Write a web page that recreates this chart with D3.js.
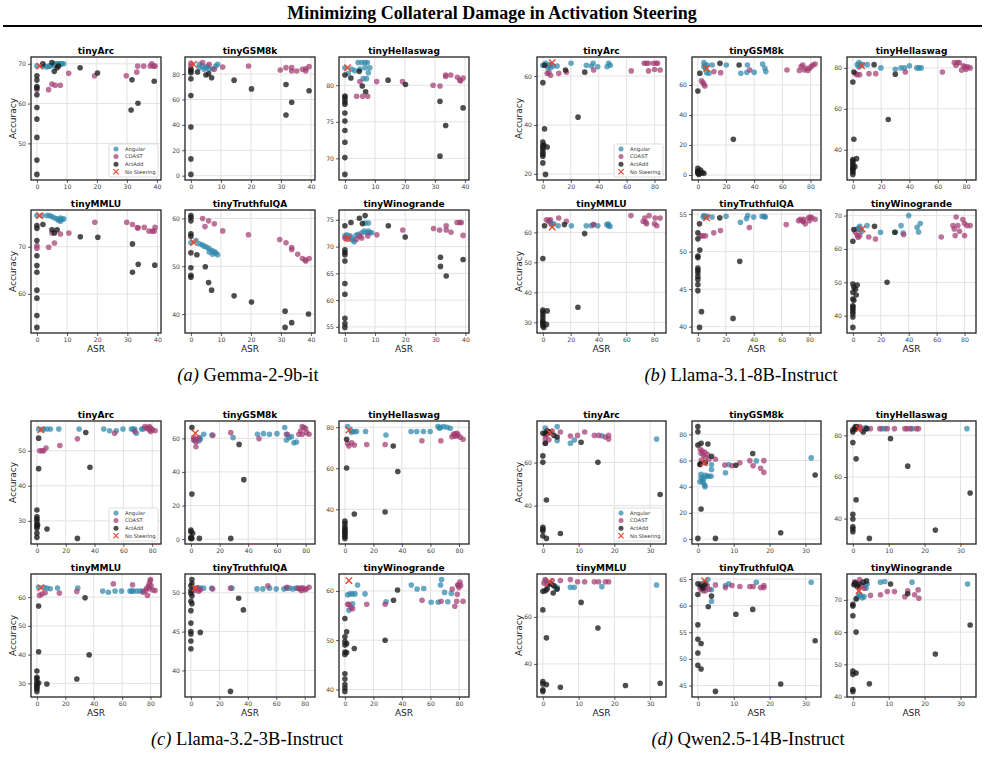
<!DOCTYPE html>
<html>
<head>
<meta charset="utf-8">
<script src="https://cdn.jsdelivr.net/npm/d3@7"></script>
<style>
  body { margin: 0; background: #fff; }
</style>
</head>
<body>
<svg id="chart"></svg>
<script>
// ---- data ----
const benchmarks = ['tinyArc', 'tinyGSM8k', 'tinyHellaswag', 'tinyMMLU', 'tinyTruthfulQA', 'tinyWinogrande'];
const methods = ['Angular', 'COAST', 'ActAdd', 'No Steering'];

// (a) Gemma-2-9b-it  -- each entry is [ASR, Accuracy]
const gemmaAngular = [
  [[0,69.4],[1.7,69.6],[2.2,69.4],[3.3,69.2],[3.9,69.4],[4.4,69.4],[5.6,69.6],[6.1,70],[6.7,70],[7.2,70],[7.8,70],[8.3,70],[8.9,70]],
  [[2.8,87.7],[2.8,85],[3.9,86.3],[4.4,83.7],[5,85],[5.6,86.3],[6.1,83.7],[7.2,84.2],[8.3,86.3],[8.9,87.7]],
  [[0,82.4],[1.1,81.6],[2.2,82.2],[3.3,82],[4.4,83.1],[5,82.2],[5.6,83.1],[6.1,80.9],[6.7,83.1],[6.7,82.4],[7.2,80.9],[7.5,83.1],[7.8,81.7],[8.3,82.4]],
  [[0,76.6],[1.7,76.6],[3.3,76.6],[4.2,76.6],[5,76.4],[5.8,76.1],[6.7,75.9],[7.2,75.6],[7.8,76.1],[7.8,75.4],[8.3,75.8],[8.9,75.9]],
  [[0,54.9],[1.7,55.4],[2.8,54.7],[3.7,54.5],[4.4,54.2],[5.2,54],[6.1,53.7],[6.1,53],[7,53.3],[7.2,52.5],[7.8,53],[8.3,52.8],[8.9,52.4]],
  [[0,72],[0.6,72.2],[1.7,72],[2.2,71.6],[2.6,71.2],[3.1,70.9],[3.7,72.1],[4.4,72.3],[5.6,72.6],[6.4,72.9],[6.7,74.4],[7.2,72.6],[7.8,72.9],[7.8,74.4],[8.3,72.6],[8.9,72.6]]
];
const gemmaCoast = [
  [[0,63.5],[3.9,63.5],[5,64.9],[6.1,64.6],[7.8,64.6],[10.6,67.6],[19.2,67],[29.8,67],[33.3,67.9],[33.6,69.4],[35.6,69.4],[37.8,69.4],[38.3,70],[38.9,69.4],[39.4,69.4]],
  [[0,88.4],[0,86.3],[3.9,89],[6.1,87.7],[7.8,83.7],[10.6,85.5],[19.2,86.3],[29.8,83.2],[31.7,85],[33.6,85],[33.6,82.4],[35.3,82.4],[37.2,83.7],[38.3,84.2],[38.3,82.4],[39.4,85.8]],
  [[0,78.5],[3.9,78.5],[5,80.5],[5.9,78.5],[7.6,78.5],[10.6,80.5],[19.2,80.5],[29.4,80],[31.7,79.9],[33.6,81.4],[33.6,81.2],[35.3,81.4],[37.5,81.1],[38.3,80.7],[38.6,80.6],[39.4,81]],
  [[0,70.2],[0,69.7],[3.9,69.9],[5,72.9],[5.8,70.8],[7.8,72.7],[10.6,72.9],[19.2,75.2],[29.8,75.2],[31.7,74.7],[33.3,74],[33.6,74],[35.6,74.1],[37.2,73.3],[38.3,73.3],[38.9,73.3],[39.2,74.1]],
  [[3.9,60],[4.7,58.3],[5.9,59.5],[7.8,58.9],[10.6,57.4],[19.2,56.6],[29.6,55.6],[31.7,54.9],[33.6,53.9],[33.6,53.5],[35.6,52.5],[37.2,51.6],[38.1,51.3],[38.3,51.1],[39.4,51.6]],
  [[0,71.6],[0.9,71.4],[3.9,71.4],[5,72],[5.6,71.6],[7.6,72],[10.6,72.2],[19.2,73.1],[29.4,73.4],[31.4,73.1],[33.6,73.9],[33.6,73.1],[35.2,72.7],[37.2,74.5],[38.1,74.5],[38.6,74.5],[39.2,72.1]]
];
const gemmaActAdd = [
  [[0,67],[0,65.9],[0,64.3],[0,63.9],[0,62.2],[0,59],[0,56.1],[0,51.5],[0,45.8],[0,42.2],[2,70],[5,70.3],[5.8,68.1],[6.7,69],[7.2,69.4],[14.4,69],[20.2,67.7],[31.7,66],[31.4,58.4],[33.7,60.1],[39.1,65.6]],
  [[0,83.7],[0,82.4],[0,81],[0,76.3],[0,63.1],[0,38.3],[0,13.2],[0,1],[2.2,81.6],[5,79.2],[5.9,80.2],[6.9,77.1],[14.4,75.2],[20.2,68.3],[31.7,71.7],[31.7,47.7],[33.6,57.8],[39.4,66.8]],
  [[0,81.4],[0,78.5],[0,78.1],[0,77.7],[0,77.4],[0,76.2],[0,75.1],[0,73.8],[0,72.2],[0,70.1],[0,67.8],[2,81],[4.8,81.9],[5.8,79.9],[6.9,79.1],[14.4,80.7],[20.2,80.1],[31.7,77.8],[33.6,74.5],[31.7,70.3],[39.4,76.9]],
  [[0,74.5],[0,73.9],[0,71.3],[0,68.1],[0,66],[0,64.6],[0,60.8],[0,59.1],[0,55.4],[0,52.9],[2,74.7],[5,73.6],[5.8,72.9],[6.7,73.6],[14.4,72.1],[20.2,72],[31.7,70.6],[31.7,64.6],[33.6,66.3],[39.1,66.1]],
  [[0,60.6],[0,60.2],[0,59.5],[0,56.8],[0,56.3],[0,52.8],[0,49.7],[0,48.1],[0,47.7],[2,52.4],[4.8,49.9],[5.9,46.6],[6.9,45],[14.4,43.8],[20.2,42.5],[31.4,40.6],[31.4,37.2],[33.6,38.2],[39.2,40]],
  [[0,73.9],[0,69.4],[0,68.9],[0,68.5],[0,67.3],[0,63.1],[0,61.1],[0,56.6],[0,55.6],[0,54.9],[2,74.5],[4.8,75.3],[5.8,74.3],[6.7,75.8],[14.4,73.9],[20,71.8],[31.7,68],[31.7,66.3],[33.6,64.5],[39.2,67.6]]
];
const gemmaNoSteer = [[0.9,69.4],[0.9,87.7],[0.9,82.4],[0.9,76.6],[0.9,55],[0.9,71.6]];
const gemmaXTicks = [0, 10, 20, 30, 40];
const gemmaYTicks = [[50,60,70],[0,20,40,60,80],[70,75,80],[60,70],[40,50,60],[55,60,65,70,75]];

// (b) Llama-3.1-8B-Instruct
const llama8Angular = [
  [[0,64.4],[1.9,65.2],[3.6,63.4],[4.3,64.4],[5.5,63.4],[5.5,64.8],[7.4,64.1],[10.2,64.1],[20.2,65.2],[31.2,64.4],[34.8,64.1],[36,65.2],[39.3,63.8],[46,63.8],[47.1,65.2],[48.3,64.4]],
  [[4.3,74.9],[4.3,72.2],[5,73.3],[5.5,71.1],[6.2,68.2],[6.7,73.3],[7.9,67.8],[10.2,73.3],[20.2,73.3],[30.5,67.8],[34.8,68.4],[35.2,73.3],[40,68.4],[46,73.9],[47.6,71.1],[48.3,68.9]],
  [[3.1,81.6],[4.3,82.6],[4.3,80.5],[5.5,81.6],[6.7,81.6],[10.2,81.6],[19.8,80],[30,79.3],[34,80],[36.4,80],[40,81],[45.2,80],[46.7,80],[48.3,80]],
  [[4.3,63.7],[5.5,63.1],[6.2,62.6],[7.9,62.9],[11,62.2],[20.5,62.2],[31.2,62.2],[34.8,62.2],[36.4,62.6],[39.5,62.2],[46,62.6],[47.1,62.2],[47.1,62.8],[48.3,62]],
  [[3.8,54.6],[4.3,54.8],[5.5,54.6],[6.7,54.7],[10.2,54.6],[20.2,54.7],[30.5,53.9],[34.8,54.4],[35.7,54.8],[40,54.6],[46,54.7],[47.6,54.7],[48.3,54.6]],
  [[3.1,66],[4.3,66.3],[5,66.8],[5.5,65.8],[6.2,65.3],[10.2,67],[19.8,65],[30.5,65],[34.5,67],[36,64.8],[40,70],[46,66.5],[47.1,65.1],[48.3,67.6]]
];
const llama8Coast = [
  [[3.1,61.1],[4.3,61.4],[5.5,60.3],[11.4,61.1],[16.9,61.6],[36.4,62.5],[63.3,62.1],[72.6,65.2],[74,65.2],[75.7,65.2],[75.7,62.1],[79.3,65.2],[80,62.7],[81.2,65.2],[82.1,65.2],[84,62.5]],
  [[2.6,62.7],[3.6,61.6],[4.3,60.4],[5,59.3],[11.4,68.9],[16.2,68.2],[36.9,70],[63.3,70],[72.1,69.6],[73.3,72.2],[74.5,73.3],[75.7,70],[76.9,71.1],[78.1,69.6],[79.3,71.1],[80.5,72.2],[81.7,73.3],[83.3,73.9]],
  [[1.9,77.2],[3.1,76.7],[4.8,76.7],[11.4,77.2],[16.2,77.2],[37.1,78],[63.3,78],[71.7,82.6],[72.9,81.3],[74,82.6],[75.2,82.6],[76.9,78.9],[78.1,81],[79.3,80.5],[80,79.3],[81.2,80.5],[82.9,80]],
  [[2.6,64.2],[4.3,64],[5.5,64.2],[11.4,64.8],[16.9,63.7],[36.4,62.6],[63.3,65.6],[72.1,63.7],[73.3,64.8],[74,63.4],[74.5,62.9],[76.4,65.6],[80.2,62.9],[80.7,64.8],[81.9,62.2],[84.3,64.8]],
  [[2.4,52.1],[3.6,52.1],[5.5,52.1],[11.4,52.5],[16.2,52.8],[36.9,53.2],[63.3,53.6],[72.1,54.1],[73.3,54.3],[74.5,54.1],[75.7,54.3],[75.7,54],[76.9,53.7],[79.3,54.5],[80,54.1],[80.5,54.6],[81.7,54.5],[84,54.3]],
  [[1.9,65],[3.1,64],[3.8,63.5],[5,64],[11.4,63.6],[16.2,63],[36.4,64.3],[63.3,63.6],[71.7,67],[72.6,66],[73.3,64],[74,69.6],[75.2,67],[76.4,65.3],[78.8,68.8],[80,67.6],[80,64],[81.7,67],[84,67]]
];
const llama8ActAdd = [
  [[1.2,64.4],[0,57.3],[1.2,38.4],[0,33],[0,31.6],[0.7,31.8],[0,30.9],[0,30],[0,28.9],[0,28],[0,27.2],[0,24.5],[3.1,31],[1.9,19.8],[16.2,62.5],[30,61.6],[25.2,43.2]],
  [[1.4,67.8],[0,56],[0,4.4],[0,2.7],[0,2.2],[0,1.8],[0,1.1],[0.7,0.4],[1.9,3.3],[1.4,1.1],[3.1,1.6],[4.3,1.1],[15.7,74.4],[29.3,73.3],[25.2,23.8]],
  [[0.7,78],[0,73.1],[0.7,45.2],[0,35.2],[0,34.5],[0,33.4],[0,32.4],[0,31.3],[0,30.6],[0,30.1],[0,29.1],[0,28],[1.4,31.8],[2.6,35.7],[15,81.6],[30,76.9],[25,54.8]],
  [[1.2,62.2],[0,51.3],[0,34.1],[0,33.4],[0,32.5],[0,31.6],[0,30.6],[0,30],[0,29.4],[0,28.8],[0.7,28.3],[2.6,29.3],[3.1,33.8],[15.5,62.6],[30,59.6],[25.2,35]],
  [[1.2,53.7],[0,52.5],[0,51.7],[1.4,50.2],[0,49.4],[0,49.2],[0,47.8],[0,47.5],[0,47.2],[0,46.7],[0,46.3],[0,45.6],[0,44.8],[2.6,42],[1.2,39.9],[15.7,54.5],[30,48.7],[25.2,41.1]],
  [[0.7,65.8],[0,62.3],[0,49.5],[0.7,48.5],[1.9,47.9],[3.1,49.2],[0,47],[2.4,46.2],[0,45],[0.7,44.6],[0,43],[0,42.6],[0,42],[0,41.3],[0,40.6],[0,39.6],[0,36.5],[15.5,66.8],[30,65],[24.5,50]]
];
const llama8NoSteer = [[6.7,65.5],[6.2,71.1],[6.2,81],[6.7,61.8],[6.2,54.5],[6.7,66]];
const llama8XTicks = [0, 20, 40, 60, 80];
const llama8YTicks = [[20,40,60],[0,20,40,60],[40,60,80],[30,40,50,60],[40,45,50,55],[40,50,60,70]];

// (c) Llama-3.2-3B-Instruct
const llama3Angular = [
  [[1.2,56.2],[3.5,56],[4.7,56.2],[7,56.2],[9.4,56.2],[15.2,56.2],[29.3,56.2],[46.4,56.2],[50.4,55.7],[55.1,55.7],[59.7,56.2],[65.6,56.2],[66.7,56.2],[67.9,56.2],[69,55],[72.6,56.2],[73.8,56.2]],
  [[1.9,59],[3.5,59.4],[5.4,58.4],[5.9,60.4],[6.6,59.4],[8.9,62.4],[14.6,62],[29.4,60.4],[46.4,62.4],[50.6,62.8],[54.8,62.4],[60,62.8],[65.4,66.4],[66.6,59],[66.6,62.4],[68.5,60.4],[70.1,61],[71.8,57.4],[73.6,57.8]],
  [[1.9,80.3],[4.2,78.4],[4.7,77.5],[6.6,77.9],[8.2,77.9],[14.5,77.9],[28.8,76.2],[46.4,77.9],[50.4,77.9],[55.1,77.9],[59.8,77.9],[65.2,80.3],[66.4,79.5],[66.9,80],[69.2,80.3],[71.6,80],[73.9,79.5]],
  [[1.2,63.4],[4.7,63.4],[7,63.2],[9.4,62.9],[14.5,63.2],[28.8,63.2],[46.3,62.1],[50.3,61.7],[55,62.1],[59.6,62.1],[65.5,62.1],[66.7,62.1],[67.8,62.1],[70.2,62.1],[72.5,62.1],[74.4,62.1]],
  [[1.9,50.5],[4.7,50.6],[5.9,50.5],[6.6,50.6],[8.9,50.6],[14.6,50.6],[28.9,50.6],[46.4,50.5],[50.6,50.5],[55.3,50.6],[60,50.5],[65.4,50.5],[67.1,50.6],[69.4,50.6],[71.8,50.5],[74.1,50.6]],
  [[1.9,59.2],[2.8,56.1],[3.5,59.4],[5.4,59.4],[5.4,57.4],[7.1,59.4],[8.9,61.2],[14.1,59.4],[28.9,57.8],[46.6,61.2],[50.6,60.4],[55.3,60.5],[60.5,57.7],[65.4,57.7],[67.1,61.2],[67.8,62.3],[69.9,59.7],[72.2,57.8],[74.6,59.5]]
];
const llama3Coast = [
  [[1.9,50],[3.5,50],[4.7,50],[6.3,50.8],[15.9,51.5],[28.1,53.4],[53.9,55],[67.9,55.5],[74.9,56.9],[76.1,56.4],[77.3,56.4],[78,56],[78,56.9],[78.9,55.5],[79.2,56.4],[80.1,56],[82,55.7]],
  [[1.9,60.4],[2.4,59],[3.5,57.8],[3.5,55],[5.4,59.8],[15.3,61.8],[27.8,63.4],[47.5,59.8],[67.1,62.4],[75.3,62.4],[76.5,64.4],[77.6,67],[77.6,62.4],[78.8,66.4],[80,65.8],[80.7,63.4],[82.4,62.4]],
  [[1.9,72.1],[2.8,70.8],[4.7,72.4],[6.6,71.3],[15.3,71.6],[28.2,71.6],[54,73.4],[67.3,73.4],[75.1,75.4],[76.3,76.7],[77,75.7],[77.4,76.7],[78.2,75.7],[78.6,77],[79.4,76.2],[81,75.1],[82.9,74.1]],
  [[1.9,60.6],[3.5,61.1],[5.8,61.5],[15.8,61.4],[28.1,62],[53.8,64.6],[67.3,64.3],[74.9,61.7],[76.6,62.3],[77.3,63.1],[77.8,60.6],[78.5,63.8],[79,64.6],[79.2,62.9],[79.7,65.7],[80,66.1],[80.4,64],[81.6,62.5],[83.2,62.3]],
  [[2.4,50.3],[3.5,50.6],[5.4,50.2],[6.6,50.4],[15.3,50.5],[27.8,50.6],[54.1,50.9],[67.5,50.7],[75.3,50.6],[76.5,50.5],[77.6,50.3],[77.6,50.6],[78.8,50.6],[80,50.4],[81.2,50.5],[83.1,50.7]],
  [[1.9,57.3],[2.8,57.3],[4.2,56.6],[5.4,56.4],[15.3,57.3],[28.2,57.3],[54.1,58.1],[67.5,57.9],[75.3,60.4],[77.1,56.9],[78.4,57.9],[78.8,59.3],[79.2,61.2],[79.4,61.2],[80,60.7],[80.7,61.8],[81.2,61.1],[82.9,57.9]]
];
const llama3ActAdd = [
  [[1.2,53.6],[1.2,44.9],[0,33.1],[0,31.2],[0,30.6],[0,30],[0,29.1],[0.5,28.8],[0,28.5],[0,27.9],[0,26.5],[0,25.3],[7,27.7],[28.1,25],[33.9,55.2],[36.8,45.3]],
  [[0.7,66.4],[0.7,26.8],[0,5.4],[0,4.4],[1.2,3.4],[0,1],[0,0.4],[0.7,0.4],[5.9,0.4],[27.8,0.4],[33.6,56.4],[36.9,35.4]],
  [[1.2,74.1],[1.2,60.1],[0,34.2],[0,33],[0,31.5],[0,30.5],[0,29.8],[0,29],[0,28.3],[0,27.5],[0,26.5],[0,25.8],[6.6,37.7],[28.2,38.7],[33.9,70.8],[37.1,58.4]],
  [[1.2,56.9],[1.2,41],[0,34.3],[0,32.1],[0,31.6],[0,30.5],[1.2,30.1],[0,29.8],[0,29.2],[0,28.6],[0,28.1],[0,27.2],[7,29.8],[28.1,31.5],[33.9,59.8],[36.8,39.9]],
  [[0.7,51.7],[0.7,51.2],[0,50.9],[0,50.3],[0,49.9],[0.7,49.6],[0,48.9],[0.7,48.6],[0,47.7],[0,46.1],[0,45],[0,44.7],[0,43.8],[0,42.8],[6.6,44.9],[27.8,37.3],[33.6,49.3],[36.9,47.8]],
  [[0,54.4],[1.2,51.7],[0,50.7],[0,49.7],[1.2,49.3],[0,49],[0,47.6],[1.2,47.5],[0,47.1],[0,43.2],[0,42.1],[0,41],[0,40.3],[0,39.6],[6.6,48.3],[28.2,50],[34.1,58.1],[36.9,60.2]]
];
const llama3NoSteer = [[2.8,56],[3.1,63],[2.8,78.6],[2.8,63.2],[3.1,50.6],[2.8,62.1]];
const llama3XTicks = [0, 20, 40, 60, 80];
const llama3YTicks = [[30,40,50],[0,20,40,60],[40,60,80],[30,40,50,60],[40,45,50],[40,50,60]];

// (d) Qwen2.5-14B-Instruct
const qwenAngular = [
  [[0.7,76],[1.2,74.6],[2.1,73.8],[4,76.7],[4,70.2],[7.7,69],[8.8,70.5],[16.5,72.4],[31.8,70.9]],
  [[0.6,43.7],[0.9,49.5],[0.9,47],[1.2,45],[1.5,43],[1.7,46.2],[1.9,41.2],[2,40],[2.1,48.7],[2.6,48],[3.1,48],[3.7,48],[3.8,56.9],[3.8,53.1],[7.7,50.6],[8.6,56.9],[16.3,59.7],[31.6,62]],
  [[0.7,84.2],[1.2,83.7],[2.4,83.2],[3.5,83.7],[4,83.2],[8.1,83.2],[8.9,83.2],[16.5,83.2],[31.8,83.2]],
  [[0.7,75.5],[1.2,74.8],[3.1,73.3],[3.8,71.9],[4,72.6],[7.7,72.6],[8.8,72.6],[16.5,72.9],[31.8,73.6]],
  [[0.9,64.1],[1.7,64.3],[2.1,63.4],[2.8,64.9],[3.8,63],[3.8,60.8],[7.7,63.8],[8.6,64.1],[16.3,64.4],[31.6,64.4]],
  [[0.7,75.5],[1.2,74.2],[1.2,70.7],[1.7,71.8],[2.1,71.4],[2.6,70.7],[3.1,71],[3.5,74.5],[3.7,73.6],[4,74.9],[7.7,75.5],[8.9,75.7],[16.5,75.5],[32,74.9]]
];
const qwenCoast = [
  [[0.7,70.9],[0.7,69],[0.7,72.6],[1.2,73.1],[1.7,70.6],[2.6,74.6],[4.9,74.2],[7.7,72.3],[9.7,72.6],[11.7,74.2],[14.4,72.6],[15.6,72.6],[17.5,71.9],[18.4,72.6],[18.4,70.9]],
  [[0.7,68.5],[0.9,65.5],[1,60.4],[1.2,67.3],[1.5,64.2],[1.9,66.3],[2.1,62.5],[2.6,64.8],[3.1,60.9],[4.9,60.9],[7.5,56.5],[9.5,55.9],[11.7,58.3],[14.5,59.9],[15.4,55.9],[17.5,54.1],[18.4,59.9],[18.4,50.9]],
  [[0.5,83.7],[1,83.2],[1.9,84.2],[2.4,82.6],[4.9,83.2],[7.5,83.2],[9.6,83.2],[11.6,83.2],[14.5,83.2],[15.1,83.2],[16,83.2],[17.7,83.2],[18.3,83.2]],
  [[0.3,74.4],[0.7,75.9],[1.2,73.3],[1.7,74],[2.6,75.5],[4.9,75.5],[7.7,75.9],[9.7,75],[11.7,75],[14.4,75],[15.6,75],[17.5,75],[18.4,75]],
  [[0.6,63.4],[0.9,63],[1.2,63.8],[1.5,62.8],[1.9,63.3],[2.1,62.8],[2.6,63.8],[3.1,63.1],[4.9,63.9],[7.7,63.4],[9.5,63.8],[11.7,63.6],[14.5,63.6],[15.4,63.6],[17.5,63.4],[18.4,63.8],[18.4,63.4]],
  [[0.5,75.5],[1,74.9],[1.7,73.6],[1.9,76.3],[2.4,74.5],[3.1,73.6],[4.9,71.4],[7.7,71.6],[9.6,72.6],[11.6,72.6],[14.5,71],[15.3,72.8],[17.2,71.6],[18.2,73.1],[18.4,70.5]]
];
const qwenActAdd = [
  [[0,73.6],[0.7,73.6],[1.2,74.6],[1.7,74.2],[3.1,72.6],[4,71.9],[0.7,69],[10.7,69.4],[0,63.1],[0,60.1],[15.4,60.1],[1,42.6],[32.8,45.2],[0,29.9],[0,29],[0,28.2],[0,25.9],[1,24.8],[4.9,27.1]],
  [[0,85.9],[0,82],[0,71.8],[0.9,73.1],[2.8,72.6],[0.6,56.9],[0.7,57.4],[2.1,58.2],[3.8,63.3],[10.6,56.4],[15.3,65.3],[0.9,23],[0,0.5],[4.9,0.5],[23.1,4.8],[32.7,48.9]],
  [[0,82.6],[0,81.6],[0.6,82.9],[0.9,84.2],[2.9,81.6],[3.8,83.2],[0,76.5],[0.9,68.7],[10.5,78.4],[0.9,49],[0,42.1],[0,39.8],[0,36.1],[0,35],[0,33.7],[4.6,30.5],[15.3,65.2],[23,34.5],[32.7,52.3]],
  [[0,70.9],[0.7,71.2],[1.2,71.9],[2.1,74],[3.1,73.3],[4,71.9],[2.9,70.2],[10.7,66.2],[0,63],[1,51.1],[15.4,55.3],[0,32.5],[0,31.5],[1,31.2],[0,29],[0,28.3],[4.9,30.1],[23.1,30.8],[32.8,31.8]],
  [[0,64.1],[0.9,63.8],[1.4,63.3],[2.1,64.1],[0,62.1],[3.8,61.8],[2.9,59.8],[10.6,58.4],[15.3,59.3],[0,56.4],[0,53.7],[0.9,52.9],[0,51.1],[0,48.8],[0.9,48.1],[4.9,43.9],[23.1,45.3],[32.7,53.4]],
  [[0,68.6],[0,68.1],[0.3,74.7],[0.6,75.2],[1.2,74.2],[1.7,74.9],[2.9,75.5],[3.8,75.9],[0.9,70.3],[0,65.1],[0.9,60],[10.5,74.9],[15.3,71.9],[0,47.9],[0,46.9],[0.9,47.3],[0,42.2],[0,41.6],[4.6,44],[23,53.2],[32.7,62.2]]
];
const qwenNoSteer = [[1.9,74],[1.7,58.2],[1.7,83.2],[1.9,75],[1.9,64.7],[1.7,72.8]];
const qwenXTicks = [0, 10, 20, 30];
const qwenYTicks = [[40,60],[0,20,40,60,80],[40,60,80],[40,60],[45,50,55,60,65],[40,50,60,70]];

// ---- layout / style ----
const width = 985, height = 767;
const colors = { Angular: '#2e86ab', COAST: '#a23b72', ActAdd: '#1b1b1b', 'No Steering': '#e8462f' };
const plotFont = 'DejaVu Sans, Verdana, sans-serif';
const serifFont = '"Liberation Serif", "Times New Roman", serif';
const plotH = 123, rowStep = 153;

const panels = [
  { tag: '(a)', name: 'Gemma-2-9b-it', angular: gemmaAngular, coast: gemmaCoast, actadd: gemmaActAdd, none: gemmaNoSteer, xTicks: gemmaXTicks, yTicks: gemmaYTicks, lefts: [31, 185, 339], w: 130, top: 57, capX: 248, capY: 381 },
  { tag: '(b)', name: 'Llama-3.1-8B-Instruct', angular: llama8Angular, coast: llama8Coast, actadd: llama8ActAdd, none: llama8NoSteer, xTicks: llama8XTicks, yTicks: llama8YTicks, lefts: [537, 692, 847], w: 129, top: 57, capX: 741, capY: 381 },
  { tag: '(c)', name: 'Llama-3.2-3B-Instruct', angular: llama3Angular, coast: llama3Coast, actadd: llama3ActAdd, none: llama3NoSteer, xTicks: llama3XTicks, yTicks: llama3YTicks, lefts: [31, 185, 339], w: 130, top: 421, capX: 247, capY: 745 },
  { tag: '(d)', name: 'Qwen2.5-14B-Instruct', angular: qwenAngular, coast: qwenCoast, actadd: qwenActAdd, none: qwenNoSteer, xTicks: qwenXTicks, yTicks: qwenYTicks, lefts: [537, 692, 847], w: 129, top: 421, capX: 748, capY: 745 }
];

const svg = d3.select('#chart')
  .attr('width', width)
  .attr('height', height);

svg.append('rect').attr('width', width).attr('height', height).attr('fill', '#fff');

// main title + rule
svg.append('text')
  .attr('x', 492)
  .attr('y', 19)
  .attr('text-anchor', 'middle')
  .attr('font-family', serifFont)
  .attr('font-weight', 'bold')
  .attr('font-size', '18px')
  .attr('fill', '#000')
  .text('Minimizing Collateral Damage in Activation Steering');

svg.append('line')
  .attr('x1', 3).attr('x2', 982)
  .attr('y1', 26).attr('y2', 26)
  .attr('stroke', '#000')
  .attr('stroke-width', 2);

function drawX(sel, cx, cy, s, sw) {
  sel.append('path')
    .attr('d', `M${cx - s},${cy - s}L${cx + s},${cy + s}M${cx - s},${cy + s}L${cx + s},${cy - s}`)
    .attr('stroke', colors['No Steering'])
    .attr('stroke-width', sw)
    .attr('fill', 'none');
}

panels.forEach(p => {
  benchmarks.forEach((bench, i) => {
    const row = Math.floor(i / 3), col = i % 3;
    const x0 = p.lefts[col], y0 = p.top + row * rowStep, w = p.w, h = plotH;

    // matplotlib-like autoscale with 5% margins
    const all = [...p.angular[i], ...p.coast[i], ...p.actadd[i], p.none[i]];
    const xe = d3.extent(all, d => d[0]);
    const ye = d3.extent(all, d => d[1]);
    const xPad = (xe[1] - xe[0]) * 0.05, yPad = (ye[1] - ye[0]) * 0.05;

    const xScale = d3.scaleLinear().domain([xe[0] - xPad, xe[1] + xPad]).range([0, w]);
    const yScale = d3.scaleLinear().domain([ye[0] - yPad, ye[1] + yPad]).range([h, 0]);

    const g = svg.append('g').attr('transform', `translate(${x0},${y0})`);

    // grid
    g.append('g').selectAll('line')
      .data(p.xTicks)
      .join('line')
      .attr('x1', d => xScale(d)).attr('x2', d => xScale(d))
      .attr('y1', 0).attr('y2', h)
      .attr('stroke', '#e2e2e2').attr('stroke-width', 1);
    g.append('g').selectAll('line')
      .data(p.yTicks[i])
      .join('line')
      .attr('x1', 0).attr('x2', w)
      .attr('y1', d => yScale(d)).attr('y2', d => yScale(d))
      .attr('stroke', '#e2e2e2').attr('stroke-width', 1);

    // axes
    const xAxis = g.append('g')
      .attr('transform', 'translate(0,' + h + ')')
      .call(d3.axisBottom(xScale).tickValues(p.xTicks).tickSize(3).tickPadding(2).tickFormat(d3.format('d')));
    const yAxis = g.append('g')
      .call(d3.axisLeft(yScale).tickValues(p.yTicks[i]).tickSize(3).tickPadding(2).tickFormat(d3.format('d')));
    [xAxis, yAxis].forEach(ax => {
      ax.select('.domain').remove();
      ax.selectAll('line').attr('stroke', '#333').attr('stroke-width', 0.8);
      ax.selectAll('text').attr('fill', '#444').attr('font-size', '6.2px').attr('font-family', plotFont);
    });

    // points, in legend order
    const series = [['Angular', p.angular[i]], ['COAST', p.coast[i]], ['ActAdd', p.actadd[i]]];
    series.forEach(([name, pts]) => {
      g.append('g').selectAll('circle')
        .data(pts)
        .join('circle')
        .attr('cx', d => xScale(d[0]))
        .attr('cy', d => yScale(d[1]))
        .attr('r', 2.8)
        .attr('fill', colors[name])
        .attr('fill-opacity', name === 'ActAdd' ? 0.78 : 0.72);
    });
    drawX(g, xScale(p.none[i][0]), yScale(p.none[i][1]), 3.2, 1.4);

    // frame
    g.append('rect')
      .attr('width', w).attr('height', h)
      .attr('fill', 'none')
      .attr('stroke', '#222')
      .attr('stroke-width', 1.3);

    // subplot title
    g.append('text')
      .attr('x', w / 2).attr('y', -3)
      .attr('text-anchor', 'middle')
      .attr('font-family', plotFont)
      .attr('font-weight', 'bold')
      .attr('font-size', '9px')
      .attr('fill', '#000')
      .text(bench);

    if (col === 0) {
      g.append('text')
        .attr('transform', 'rotate(-90)')
        .attr('x', -h / 2).attr('y', -15)
        .attr('text-anchor', 'middle')
        .attr('font-family', plotFont)
        .attr('font-size', '9px')
        .attr('fill', '#222')
        .text('Accuracy');
    }
    if (row === 1) {
      g.append('text')
        .attr('x', w / 2).attr('y', h + 19)
        .attr('text-anchor', 'middle')
        .attr('font-family', plotFont)
        .attr('font-size', '9px')
        .attr('fill', '#222')
        .text('ASR');
    }

    // legend only in the first subplot
    if (i === 0) {
      const lw = 49, lh = 33;
      const lg = g.append('g').attr('transform', `translate(${w - lw - 3},${h - lh - 3})`);
      lg.append('rect')
        .attr('width', lw).attr('height', lh).attr('rx', 1.5)
        .attr('fill', '#fff').attr('fill-opacity', 0.85)
        .attr('stroke', '#cfcfcf').attr('stroke-width', 0.7);
      methods.forEach((m, k) => {
        const ly = 5 + k * 7.6;
        if (m === 'No Steering') {
          drawX(lg, 7, ly, 2.6, 1.2);
        } else {
          lg.append('circle')
            .attr('cx', 7).attr('cy', ly).attr('r', 2.5)
            .attr('fill', colors[m])
            .attr('fill-opacity', m === 'ActAdd' ? 0.78 : 0.72);
        }
        lg.append('text')
          .attr('x', 16).attr('y', ly + 1.8)
          .attr('font-family', plotFont)
          .attr('font-size', '5.2px')
          .attr('fill', '#333')
          .text(m);
      });
    }
  });

  // panel caption
  const cap = svg.append('text')
    .attr('x', p.capX).attr('y', p.capY)
    .attr('text-anchor', 'middle')
    .attr('font-family', serifFont)
    .attr('font-size', '18.5px')
    .attr('fill', '#000');
  cap.append('tspan').attr('font-style', 'italic').text(p.tag);
  cap.append('tspan').text(' ' + p.name);
});
</script>
</body>
</html>
